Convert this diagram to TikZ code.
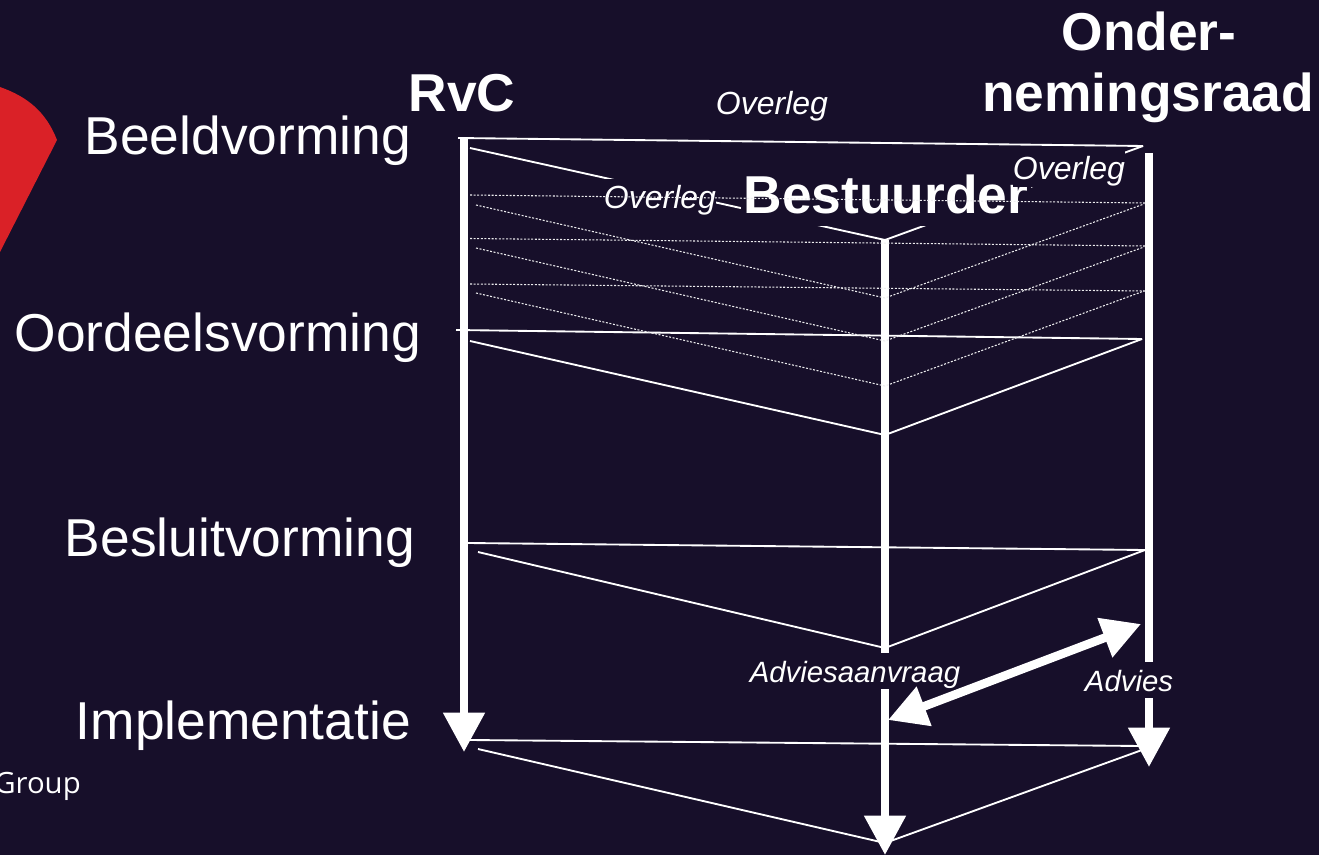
\documentclass[tikz,border=0pt]{standalone}
\usepackage{fontspec}
\setmainfont{Liberation Sans}
\newfontfamily\groupfont{Open Sans}
\usetikzlibrary{arrows.meta}
\definecolor{nightbg}{HTML}{170F2A}
\definecolor{logored}{HTML}{DA2127}
\tikzset{
  barline/.style={white,line width=6pt,-{Triangle[length=29.5pt,width=30pt]}},
  bothline/.style={white,line width=6.5pt,{Triangle[length=29pt,width=30pt]}-{Triangle[length=29pt,width=30pt]}},
  solidline/.style={white,line width=1.4pt},
  dotline/.style={white!92!nightbg,line width=.8pt,dash pattern=on 1.5pt off 1.2pt},
  phaselabel/.style={white,anchor=base east,inner sep=0pt,font=\fontsize{40}{44}\selectfont},
  actorlabel/.style={white,anchor=base,inner sep=0pt,font=\fontsize{40}{44}\selectfont\bfseries},
  remark/.style={white,anchor=base,inner sep=0pt,fill=nightbg,font=\fontsize{24}{26}\selectfont\itshape}
}
\begin{document}
\begin{tikzpicture}[x=.75pt,y=-.75pt]
\newcommand{\overlegLines}[7]{%
\coordinate (#2a) at (#3);
\coordinate (#2b) at (#4);
\coordinate (#2c) at (#5);
\coordinate (#2d) at (#6);
\coordinate (#2e) at (#7);
\draw[#1] (#2a) -- (#2b);
\draw[#1] (#2c) -- (#2d) -- (#2e);}

\useasboundingbox (0,0) rectangle (1319,855);
\fill[nightbg] (0,0) rectangle (1319,855);
% logo
\fill[logored] (0,87) .. controls (28,97) and (46,112) .. (57,140) -- (0,252) -- cycle;

% lifelines
\coordinate (rvcTop) at (464,138);
\coordinate (rvcEnd) at (464,752);
\coordinate (bestTop) at (885,240);
\coordinate (bestEnd) at (885,855);
\coordinate (orTop) at (1149,153);
\coordinate (orEnd) at (1149,767);
\draw[barline] (rvcTop) -- (rvcEnd);
\draw[barline] (bestTop) -- (bestEnd);
\draw[barline] (orTop) -- (orEnd);

\overlegLines{solidline}{top}{458,138}{1143,146}{470,148}{885,240}{1143,146}
\overlegLines{solidline}{oordeel}{456,330}{1142,339}{470,341}{885,435}{1142,339}
\overlegLines{solidline}{besluit}{468,543}{1145,550}{478,552}{885,648}{1145,550}
\overlegLines{solidline}{impl}{470,740}{1142,746}{478,749}{885,843}{1142,750}

% labels on top of the lines
\node[phaselabel] (beeld) at (411,155) {Beeldvorming};
\node[phaselabel] (oordeel) at (421,351) {Oordeelsvorming};
\node[phaselabel] (besluit) at (415,556) {Besluitvorming};
\node[phaselabel] (implementatie) at (411,739) {Implementatie};
\node[actorlabel] (rvc) at (462,112) {RvC};
\node[actorlabel] (onder) at (1149,51) {Onder-};
\node[actorlabel] (neming) at (1148,112) {nemingsraad};
\node[actorlabel,fill=nightbg,inner xsep=2pt,text height=31pt,text depth=9pt] (bestuurder) at (886,214) {Bestuurder};
\node[remark] (overlegTop) at (772,115) {Overleg};
\node[remark,text height=22pt,text depth=5pt] (overlegRight) at (1069,180) {Overleg};
\node[remark,text height=22.5pt,text depth=5pt] (overlegLeft) at (660,209) {Overleg};
\node[remark,font=\fontsize{22}{24}\selectfont\itshape,text height=22pt,text depth=5.5pt] (aanvraag) at (855,682) {Adviesaanvraag};
\node[remark,font=\fontsize{22}{24}\selectfont\itshape,text height=22pt,text depth=5.5pt] (advies) at (1129,691) {Advies};
\node[white,anchor=base east,inner sep=0pt,font=\groupfont\fontsize{22}{24}\selectfont] (group) at (81,793) {Group};

% preparation rounds
\foreach \rnd/\ya/\yb/\yc/\yd/\ye in {a/195/203/205/298/204,b/238.5/246/248/341/247,c/284/291/293/386/291}{
  \overlegLines{dotline}{\rnd}{470,\ya}{1145,\yb}{476,\yc}{885,\yd}{1144,\ye}
}

% advice arrow
\coordinate (vraagEnd) at (888,720);
\coordinate (adviesEnd) at (1141,624);
\draw[bothline] (vraagEnd) -- (adviesEnd);
\end{tikzpicture}
\end{document}
